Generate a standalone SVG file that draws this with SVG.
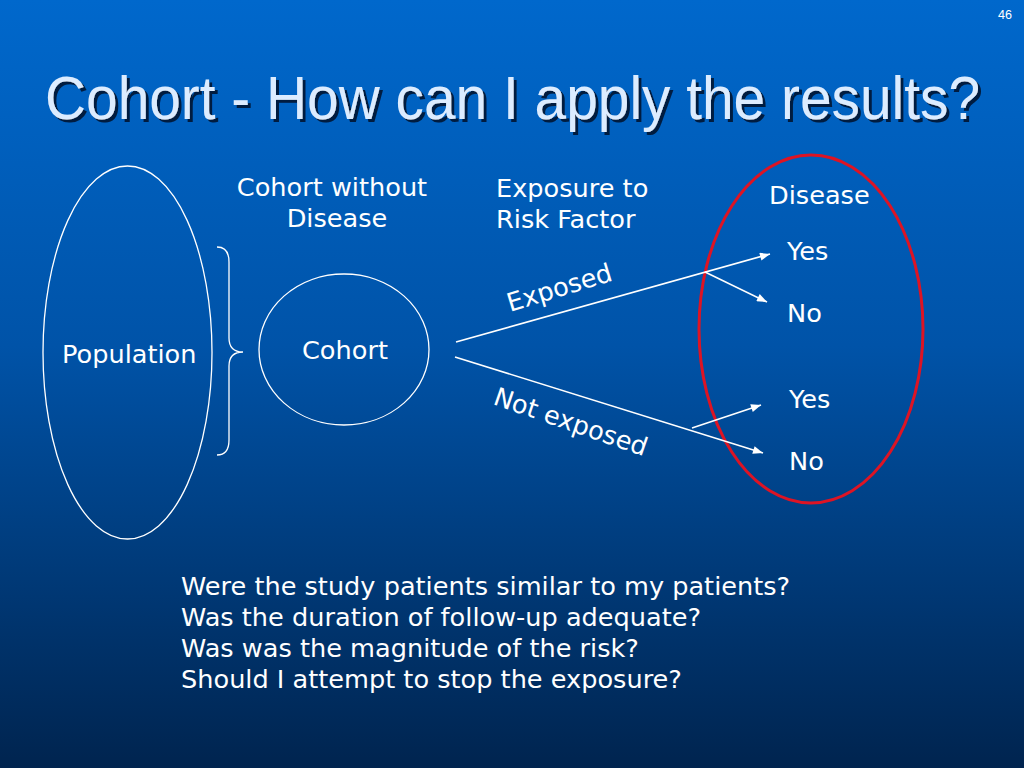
<svg xmlns="http://www.w3.org/2000/svg" width="1024" height="768" viewBox="0 0 1024 768">
  <defs>
    <linearGradient id="bg" x1="0" y1="0" x2="0" y2="1">
      <stop offset="0" stop-color="#0068cc"/>
      <stop offset="0.45" stop-color="#0053a8"/>
      <stop offset="1" stop-color="#00244f"/>
    </linearGradient>
    <filter id="shadow" x="-10%" y="-50%" width="120%" height="200%">
      <feDropShadow dx="3" dy="3" stdDeviation="0.6" flood-color="#001a40" flood-opacity="1"/>
    </filter>
    <marker id="arr" viewBox="0 0 10 8" refX="10" refY="4" markerWidth="11" markerHeight="8" markerUnits="userSpaceOnUse" orient="auto">
      <path d="M0,0 L10,4 L0,8 z" fill="#ffffff"/>
    </marker>
    <style>
      .t { font-family: "DejaVu Sans", Verdana, sans-serif; font-size: 25.6px; fill: #ffffff; }
      .shape { fill: none; stroke: #ffffff; stroke-width: 1.3; }
      .conn { fill: none; stroke: #ffffff; stroke-width: 1.6; }
      .title { font-family: "Liberation Sans Narrow", "Liberation Sans", Arial, sans-serif; font-size: 56px; fill: #dcecff; }
    </style>
  </defs>

  <rect x="0" y="0" width="1024" height="768" fill="url(#bg)"/>

  <text x="1012" y="19" text-anchor="end" font-family="Liberation Sans Narrow, Liberation Sans, sans-serif" font-size="13" fill="#ffffff" textLength="14" lengthAdjust="spacingAndGlyphs">46</text>

  <g id="title" filter="url(#shadow)">
    <text class="title" x="0" y="0" transform="translate(45,119) scale(1,1.09)" textLength="935" lengthAdjust="spacingAndGlyphs">Cohort - How can I apply the results?</text>
  </g>

  <g id="population">
    <ellipse class="shape" cx="127.5" cy="352.5" rx="84.5" ry="186.5"/>
    <text class="t" x="62" y="363">Population</text>
  </g>

  <g id="brace">
    <path class="shape" d="M217,247 Q229,247 229,262 L229,338 Q229,352 243,352 Q229,352 229,366 L229,440 Q229,455 217,455"/>
  </g>

  <g id="cohort">
    <ellipse class="shape" cx="344" cy="349.5" rx="85" ry="75.5"/>
    <text class="t" x="302" y="359">Cohort</text>
  </g>

  <g id="cohort-label">
    <text class="t" x="332" y="196" text-anchor="middle">Cohort without</text>
    <text class="t" x="337" y="227" text-anchor="middle">Disease</text>
  </g>

  <g id="exposure-label">
    <text class="t" x="496" y="197">Exposure to</text>
    <text class="t" x="496" y="228">Risk Factor</text>
  </g>

  <g id="disease-group">
    <ellipse cx="811" cy="329" rx="112" ry="174" fill="none" stroke="#dd1424" stroke-width="3"/>
    <text class="t" x="769" y="204">Disease</text>
    <text class="t" x="787" y="260">Yes</text>
    <text class="t" x="787" y="322">No</text>
    <text class="t" x="789" y="408">Yes</text>
    <text class="t" x="789" y="470">No</text>
  </g>

  <g id="connectors">
    <line class="conn" x1="456" y1="342" x2="770" y2="254" marker-end="url(#arr)"/>
    <line class="conn" x1="705" y1="272" x2="767" y2="302" marker-end="url(#arr)"/>
    <line class="conn" x1="455" y1="357" x2="763" y2="453" marker-end="url(#arr)"/>
    <line class="conn" x1="692" y1="428" x2="761" y2="405" marker-end="url(#arr)"/>
    <text class="t" x="510" y="312" transform="rotate(-17 510 312)">Exposed</text>
    <text class="t" x="492" y="404" transform="rotate(19 492 404)">Not exposed</text>
  </g>

  <g id="questions">
    <text class="t" x="181" y="595">Were the study patients similar to my patients?</text>
    <text class="t" x="181" y="626">Was the duration of follow-up adequate?</text>
    <text class="t" x="181" y="657">Was was the magnitude of the risk?</text>
    <text class="t" x="181" y="688">Should I attempt to stop the exposure?</text>
  </g>
</svg>
